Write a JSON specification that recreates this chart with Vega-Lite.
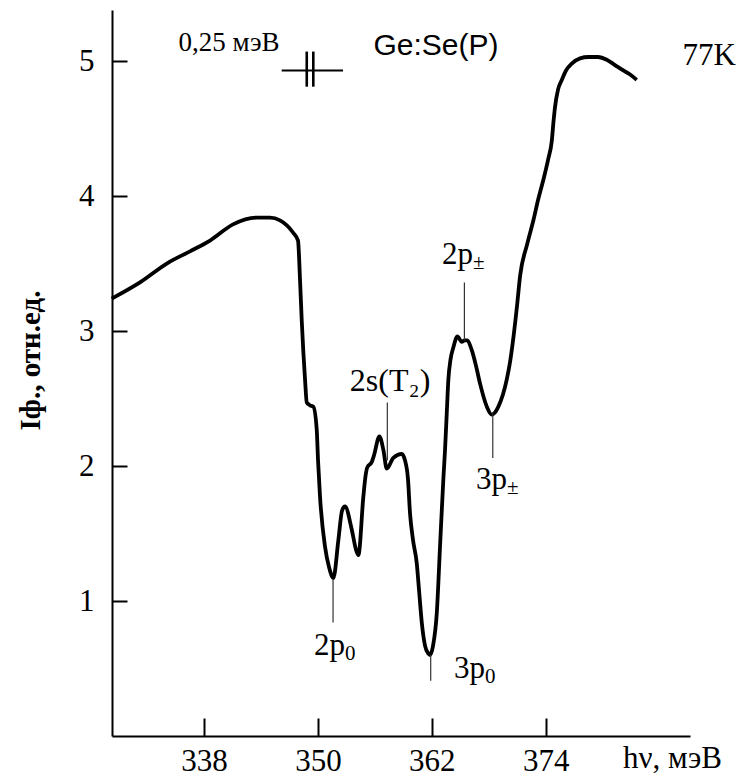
{
  "$schema": "https://vega.github.io/schema/vega-lite/v6.json",
  "autosize": "none",
  "width": 578,
  "height": 726,
  "padding": {"left": 112, "top": 10, "right": 52, "bottom": 47},
  "background": "white",
  "config": {
    "view": {"stroke": null},
    "axis": {
      "grid": false,
      "domainColor": "black",
      "domainWidth": 2,
      "tickColor": "black",
      "tickWidth": 2,
      "labelFont": "Liberation Serif",
      "labelFontSize": 31,
      "labelColor": "black",
      "titleFont": "Liberation Serif",
      "titleColor": "black"
    },
    "text": {"font": "Liberation Serif", "color": "black"}
  },
  "datasets": {
    "curve": [
      {"e": 328.27, "i": 3.24}, {"e": 331.25, "i": 3.36}, {"e": 334.07, "i": 3.50}, {"e": 336.52, "i": 3.59},
      {"e": 338.63, "i": 3.67}, {"e": 341.05, "i": 3.79}, {"e": 343.55, "i": 3.84}, {"e": 344.95, "i": 3.84},
      {"e": 346.0, "i": 3.82}, {"e": 347.37, "i": 3.73}, {"e": 347.9, "i": 3.67}, {"e": 348.11, "i": 3.38},
      {"e": 348.29, "i": 3.08}, {"e": 348.64, "i": 2.64}, {"e": 348.82, "i": 2.47}, {"e": 349.17, "i": 2.45},
      {"e": 349.51, "i": 2.44}, {"e": 349.87, "i": 2.27}, {"e": 350.01, "i": 2.04}, {"e": 350.22, "i": 1.77},
      {"e": 350.75, "i": 1.40}, {"e": 351.17, "i": 1.25}, {"e": 351.62, "i": 1.17}, {"e": 352.15, "i": 1.45},
      {"e": 352.54, "i": 1.67}, {"e": 352.85, "i": 1.70}, {"e": 353.56, "i": 1.53}, {"e": 354.01, "i": 1.38},
      {"e": 354.26, "i": 1.34}, {"e": 354.78, "i": 1.77}, {"e": 355.02, "i": 1.93}, {"e": 355.2, "i": 1.99},
      {"e": 355.67, "i": 2.03}, {"e": 355.91, "i": 2.08}, {"e": 356.47, "i": 2.22}, {"e": 356.89, "i": 2.12},
      {"e": 357.25, "i": 1.98}, {"e": 357.94, "i": 2.06}, {"e": 358.83, "i": 2.09}, {"e": 359.18, "i": 2.04},
      {"e": 359.49, "i": 1.90}, {"e": 359.7, "i": 1.65}, {"e": 360.02, "i": 1.45}, {"e": 360.41, "i": 1.28},
      {"e": 360.65, "i": 1.08}, {"e": 360.94, "i": 0.84}, {"e": 361.28, "i": 0.67}, {"e": 361.63, "i": 0.61},
      {"e": 361.81, "i": 0.60}, {"e": 362.13, "i": 0.67}, {"e": 362.52, "i": 0.91}, {"e": 362.86, "i": 1.40},
      {"e": 363.21, "i": 1.90}, {"e": 363.39, "i": 2.12}, {"e": 363.57, "i": 2.39}, {"e": 363.74, "i": 2.64},
      {"e": 363.97, "i": 2.79}, {"e": 364.27, "i": 2.88}, {"e": 364.69, "i": 2.96}, {"e": 365.15, "i": 2.92},
      {"e": 365.45, "i": 2.93}, {"e": 365.74, "i": 2.93}, {"e": 366.2, "i": 2.86}, {"e": 366.66, "i": 2.74},
      {"e": 367.08, "i": 2.61}, {"e": 367.79, "i": 2.44}, {"e": 368.31, "i": 2.38}, {"e": 369.01, "i": 2.44},
      {"e": 369.89, "i": 2.64}, {"e": 370.24, "i": 2.77}, {"e": 370.59, "i": 2.95}, {"e": 370.98, "i": 3.19},
      {"e": 371.3, "i": 3.41}, {"e": 372.03, "i": 3.64}, {"e": 372.7, "i": 3.82}, {"e": 373.19, "i": 3.97},
      {"e": 373.75, "i": 4.12}, {"e": 374.25, "i": 4.27}, {"e": 374.64, "i": 4.41}, {"e": 374.83, "i": 4.56},
      {"e": 374.98, "i": 4.66}, {"e": 375.3, "i": 4.79}, {"e": 375.69, "i": 4.86}, {"e": 376.14, "i": 4.93},
      {"e": 376.74, "i": 4.98}, {"e": 377.62, "i": 5.02}, {"e": 378.49, "i": 5.03}, {"e": 379.51, "i": 5.03},
      {"e": 380.43, "i": 5.01}, {"e": 381.3, "i": 4.97}, {"e": 382.18, "i": 4.93}, {"e": 382.89, "i": 4.90},
      {"e": 383.59, "i": 4.86}
    ],
    "leaders": [
      {"e": 351.59, "i1": 1.16, "i2": 0.84},
      {"e": 361.88, "i1": 0.60, "i2": 0.41},
      {"e": 357.31, "i1": 2.47, "i2": 2.04},
      {"e": 365.43, "i1": 3.36, "i2": 2.93},
      {"e": 368.42, "i1": 2.39, "i2": 2.06}
    ],
    "barH": [{"e1": 346.18, "e2": 352.64, "i": 4.93}],
    "barV": [
      {"e": 348.82, "i1": 5.07, "i2": 4.81},
      {"e": 349.51, "i1": 5.07, "i2": 4.81}
    ],
    "peaks": [
      {"main": "2p", "sub": "0", "e": 352.85, "i": 0.67},
      {"main": "3p", "sub": "0", "e": 367.61, "i": 0.50},
      {"main": "2p", "sub": "±", "e": 366.34, "i": 3.56},
      {"main": "3p", "sub": "±", "e": 369.92, "i": 1.90}
    ],
    "twoS": [{"t": "2s(T₂)", "e": 357.6, "i": 2.63}],
    "scaleText": [{"t": "0,25 мэВ", "e": 340.63, "i": 5.13}],
    "sample": [{"t": "Ge:Se(P)", "e": 362.44, "i": 5.11}],
    "temp": [{"t": "77K", "e": 391.22, "i": 5.04}]
  },
  "layer": [
    {
      "data": {"name": "curve"},
      "mark": {"type": "line", "color": "black", "strokeWidth": 3.8, "interpolate": "monotone"},
      "encoding": {
        "x": {
          "field": "e", "type": "quantitative",
          "scale": {"domain": [328.3, 389.2], "nice": false, "zero": false},
          "axis": {
            "values": [338, 350, 362, 374],
            "format": "d",
            "tickSize": -18,
            "labelPadding": 28,
            "title": "hν, мэВ",
            "titleFontSize": 31,
            "titleFontWeight": "normal",
            "titleX": 560,
            "titleY": 22,
            "titleAlign": "center",
            "titleBaseline": "middle",
            "titleAngle": 0
          }
        },
        "y": {
          "field": "i", "type": "quantitative",
          "scale": {"domain": [0, 5.378], "nice": false, "zero": false},
          "axis": {
            "values": [1, 2, 3, 4, 5],
            "format": "d",
            "tickSize": -15,
            "labelPadding": 33,
            "title": "Iф., отн.ед.",
            "titleFontSize": 29,
            "titleFontWeight": "bold",
            "titleAngle": -90,
            "titleX": -82,
            "titleY": 350,
            "titleAlign": "center",
            "titleBaseline": "middle"
          }
        }
      }
    },
    {
      "data": {"name": "leaders"},
      "mark": {"type": "rule", "color": "#333333", "strokeWidth": 1.2},
      "encoding": {
        "x": {"field": "e", "type": "quantitative"},
        "y": {"field": "i1", "type": "quantitative"},
        "y2": {"field": "i2"}
      }
    },
    {
      "data": {"name": "barH"},
      "mark": {"type": "rule", "color": "black", "strokeWidth": 1.8},
      "encoding": {
        "x": {"field": "e1", "type": "quantitative"},
        "x2": {"field": "e2"},
        "y": {"field": "i", "type": "quantitative"}
      }
    },
    {
      "data": {"name": "barV"},
      "mark": {"type": "rule", "color": "black", "strokeWidth": 2.6},
      "encoding": {
        "x": {"field": "e", "type": "quantitative"},
        "y": {"field": "i1", "type": "quantitative"},
        "y2": {"field": "i2"}
      }
    },
    {
      "data": {"name": "peaks"},
      "mark": {"type": "text", "fontSize": 31, "align": "right", "baseline": "middle"},
      "encoding": {
        "x": {"field": "e", "type": "quantitative"},
        "y": {"field": "i", "type": "quantitative"},
        "text": {"field": "main"}
      }
    },
    {
      "data": {"name": "peaks"},
      "mark": {"type": "text", "fontSize": 21, "align": "left", "baseline": "middle", "dy": 8},
      "encoding": {
        "x": {"field": "e", "type": "quantitative"},
        "y": {"field": "i", "type": "quantitative"},
        "text": {"field": "sub"}
      }
    },
    {
      "data": {"name": "twoS"},
      "mark": {"type": "text", "fontSize": 32, "align": "center", "baseline": "middle"},
      "encoding": {
        "x": {"field": "e", "type": "quantitative"},
        "y": {"field": "i", "type": "quantitative"},
        "text": {"field": "t"}
      }
    },
    {
      "data": {"name": "scaleText"},
      "mark": {"type": "text", "fontSize": 27, "align": "center", "baseline": "middle"},
      "encoding": {
        "x": {"field": "e", "type": "quantitative"},
        "y": {"field": "i", "type": "quantitative"},
        "text": {"field": "t"}
      }
    },
    {
      "data": {"name": "sample"},
      "mark": {"type": "text", "fontSize": 30, "font": "Liberation Sans", "align": "center", "baseline": "middle"},
      "encoding": {
        "x": {"field": "e", "type": "quantitative"},
        "y": {"field": "i", "type": "quantitative"},
        "text": {"field": "t"}
      }
    },
    {
      "data": {"name": "temp"},
      "mark": {"type": "text", "fontSize": 31, "align": "center", "baseline": "middle"},
      "encoding": {
        "x": {"field": "e", "type": "quantitative"},
        "y": {"field": "i", "type": "quantitative"},
        "text": {"field": "t"}
      }
    }
  ]
}
